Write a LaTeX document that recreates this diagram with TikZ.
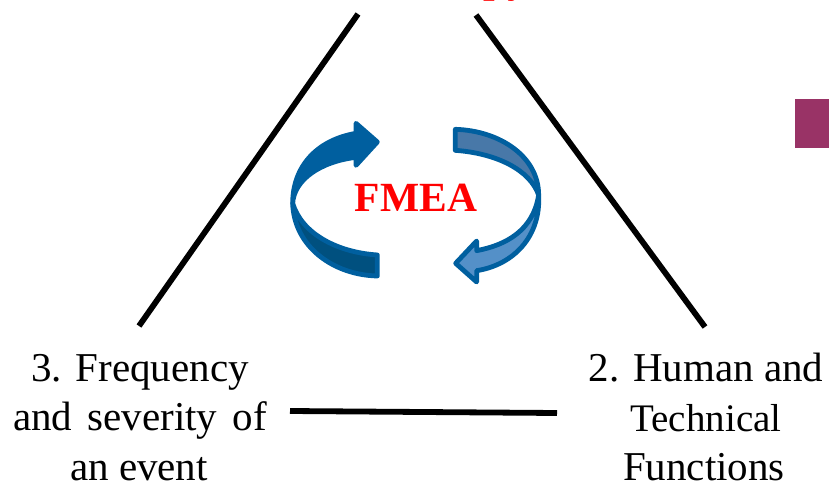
\documentclass[tikz,border=0pt]{standalone}
\usepackage{fontspec}
\setmainfont{Liberation Serif}
\definecolor{arrowline}{HTML}{005F9F}
\definecolor{lowdark}{HTML}{00507F}
\definecolor{upright}{HTML}{4878A8}
\definecolor{lowright}{HTML}{5490C8}
\definecolor{plum}{HTML}{993366}
\tikzset{
  side/.style={line width=5.8pt,black},
  label/.style={font=\fontsize{41}{49.5}\selectfont,align=center,inner sep=0pt,text=black,anchor=base},
  ribbon/.style={draw=arrowline,line width=4.8pt,line join=round},
  redtext/.style={font=\fontsize{41.5}{44}\selectfont\bfseries,text=red,inner sep=0pt}
}
\begin{document}
\begin{tikzpicture}[x=1pt,y=-1pt]
\useasboundingbox (0,0) rectangle (829,484);
\begin{scope}
\clip (0,0) rectangle (829,484);
\node[redtext,anchor=base east] (toptext) at (528,-7.5) {py};
\fill[plum] (795,99) rectangle (835,148);
\end{scope}
\coordinate (apexL) at (358,14);
\coordinate (baseL) at (139,326);
\coordinate (apexR) at (476,15);
\coordinate (baseR) at (705,327);
\coordinate (botL) at (290,411);
\coordinate (botR) at (557,413);
\draw[side] (apexL) -- (baseL);
\draw[side] (apexR) -- (baseR);
\draw[side] (botL) -- (botR);
\node[label] (n3a) at (140,381) {3. Frequency};
\node[label] (n3b) at (140,430) {and\hspace{0.12em} severity\hspace{0.12em} of};
\node[label] (n3c) at (139,480) {an event};
\node[label] (n2a) at (706,381) {2. Human and};
\node[label,font=\fontsize{39}{49.5}\selectfont] (n2b) at (706,431) {Technical};
\node[label] (n2c) at (704,480) {Functions};
\begin{scope}[shift={(270,100)},x=0.3333pt,y=-0.3333pt]
 % left arrow, lower ribbon
 \path[ribbon,fill=lowdark] (68,310) .. controls (72,440) and (190,525) .. (322,528) -- (322,465)
   .. controls (200,457) and (95,400) .. (68,310) -- cycle;
 % left arrow, main
 \path[ribbon,fill=arrowline] (322,126) -- (258,70) -- (258,100)
   .. controls (140,120) and (68,200) .. (68,310)
   .. controls (72,240) and (150,185) .. (258,172) -- (258,196) -- cycle;
 % right arrow, upper ribbon
 \path[ribbon,fill=upright] (556,88) .. controls (690,92) and (806,170) .. (806,285)
   .. controls (780,210) and (680,160) .. (556,151) -- cycle;
 % right arrow, lower
 \path[ribbon,fill=lowright] (557,490) -- (620,423) -- (620,452)
   .. controls (710,435) and (790,390) .. (806,285)
   .. controls (813,410) and (730,495) .. (620,512) -- (620,546) -- cycle;
\end{scope}
\node[redtext] (fmea) at (416,198) {FMEA};
\end{tikzpicture}
\end{document}
